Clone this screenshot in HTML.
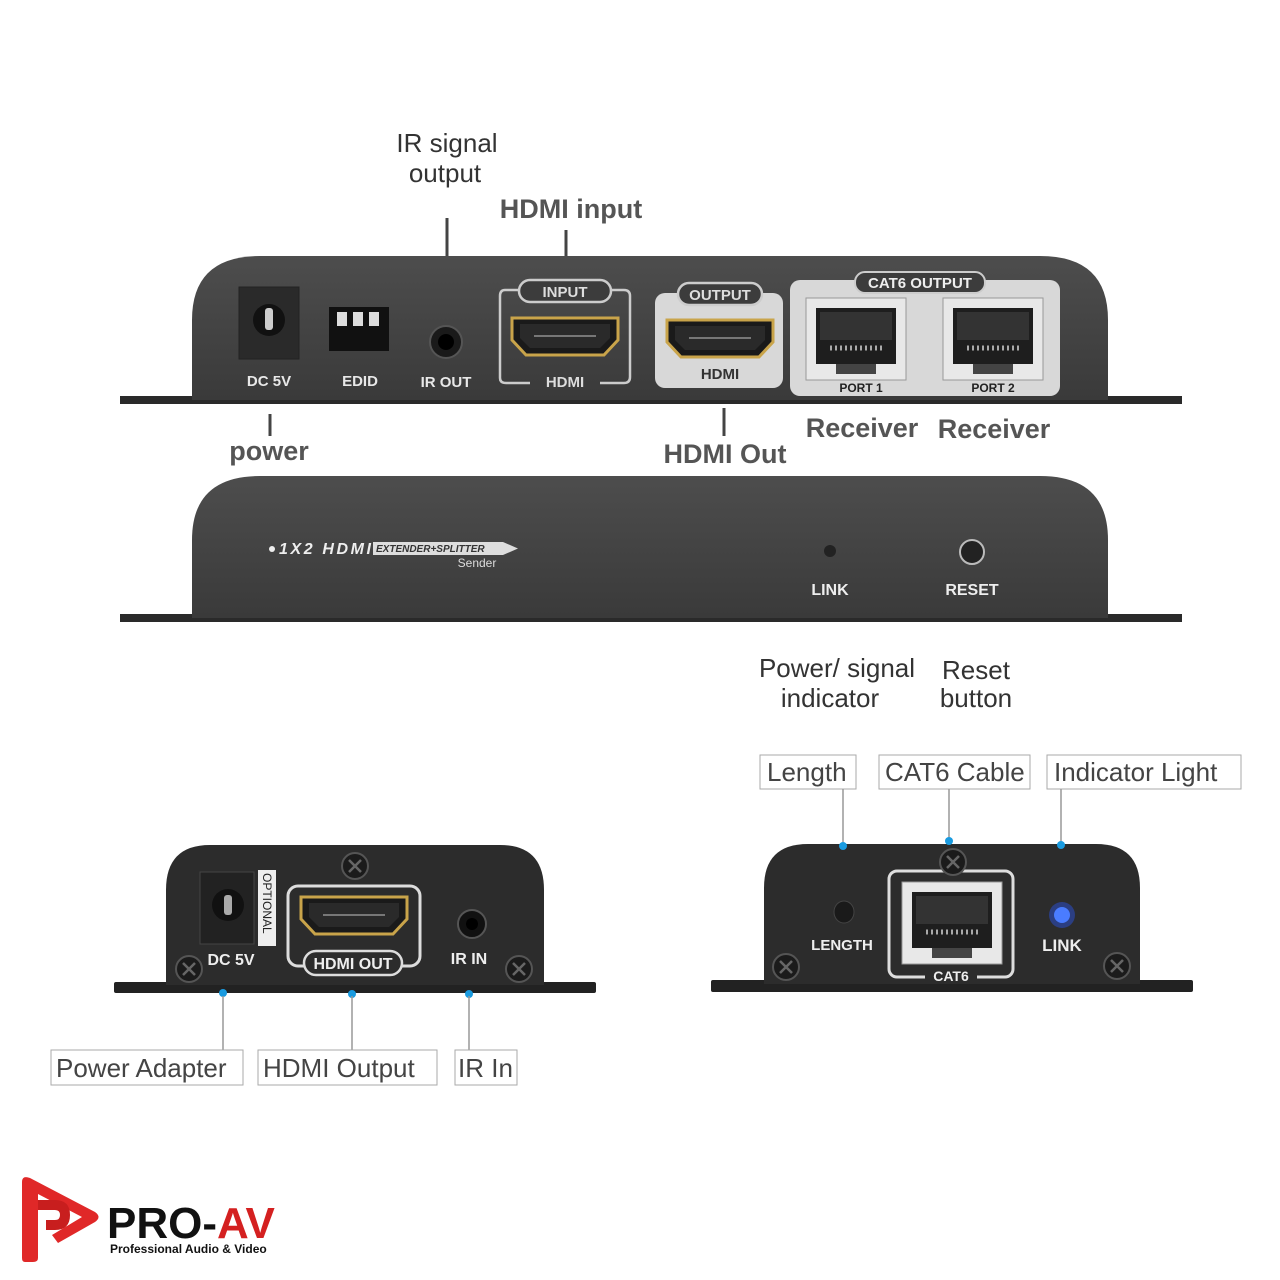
<!DOCTYPE html>
<html><head><meta charset="utf-8"><style>html,body{margin:0;padding:0;background:#fff}svg{display:block}</style></head>
<body>
<svg width="1280" height="1280" viewBox="0 0 1280 1280" xmlns="http://www.w3.org/2000/svg" font-family="Liberation Sans, DejaVu Sans, sans-serif">
<defs>
<linearGradient id="body" x1="0" y1="0" x2="0" y2="1"><stop offset="0" stop-color="#4d4d4d"/><stop offset="1" stop-color="#3a3a3a"/></linearGradient>
<g id="hdmi">
<path d="M0 0 H106 V22 L92 37 H14 L0 22 Z" fill="#1a1a1a" stroke="#c9a44a" stroke-width="3"/>
<path d="M8 6 H98 V20 L88 30 H18 L8 20 Z" fill="#2a2a2a"/>
<line x1="22" y1="18" x2="84" y2="18" stroke="#777" stroke-width="2"/>
</g>
<g id="rj">
<rect x="0" y="0" width="100" height="82" fill="#e8e8e8" stroke="#999"/>
<rect x="10" y="10" width="80" height="56" fill="#1e1e1e"/>
<rect x="14" y="14" width="72" height="28" fill="#333"/>
<path d="M24 50 h52" stroke="#aaa" stroke-width="5" stroke-dasharray="2 3"/>
<rect x="30" y="66" width="40" height="10" fill="#444"/>
</g>
<g id="screw"><circle r="13" fill="#1b1b1b" stroke="#555" stroke-width="2"/><path d="M-6 -6 L6 6 M6 -6 L-6 6" stroke="#666" stroke-width="2.5"/></g>
</defs>

<g fill="#333" font-size="26" text-anchor="middle">
<text x="447" y="152">IR signal</text><text x="445" y="182">output</text>
</g>
<text x="571" y="218" font-size="27" font-weight="bold" fill="#555" text-anchor="middle">HDMI input</text>
<line x1="447" y1="218" x2="447" y2="256" stroke="#444" stroke-width="3"/>
<line x1="566" y1="230" x2="566" y2="256" stroke="#444" stroke-width="3"/>

<rect x="120" y="396" width="1062" height="8" fill="#2a2a2a"/>
<path d="M192 400 V320 Q192 256 260 256 H1040 Q1108 256 1108 320 V400 Z" fill="url(#body)"/>
<rect x="239" y="287" width="60" height="72" fill="#2a2a2a" stroke="#222"/>
<circle cx="269" cy="320" r="16" fill="#111"/><rect x="265" y="308" width="8" height="22" fill="#ccc" rx="3"/>
<rect x="329" y="307" width="60" height="44" fill="#111"/>
<rect x="337" y="312" width="10" height="14" fill="#ddd"/><rect x="353" y="312" width="10" height="14" fill="#ddd"/><rect x="369" y="312" width="10" height="14" fill="#ddd"/>
<circle cx="446" cy="342" r="16" fill="#1a1a1a" stroke="#555" stroke-width="2"/><circle cx="446" cy="342" r="8" fill="#000"/>
<path d="M520 290 H505 Q500 290 500 296 V378 Q500 383 506 383 H530 M600 383 H624 Q630 383 630 377 V296 Q630 290 624 290 H612" fill="none" stroke="#ccc" stroke-width="2.5"/>
<rect x="519" y="280" width="92" height="22" rx="11" fill="#3c3c3c" stroke="#ccc" stroke-width="2.5"/>
<text x="565" y="297" font-size="15" font-weight="bold" fill="#ddd" text-anchor="middle">INPUT</text>
<use href="#hdmi" x="512" y="318"/>
<text x="565" y="387" font-size="15" font-weight="bold" fill="#ddd" text-anchor="middle">HDMI</text>
<rect x="655" y="293" width="128" height="95" rx="10" fill="#d8d8d8"/>
<rect x="678" y="283" width="84" height="22" rx="11" fill="#3c3c3c" stroke="#ccc" stroke-width="2.5"/>
<text x="720" y="300" font-size="15" font-weight="bold" fill="#ddd" text-anchor="middle">OUTPUT</text>
<use href="#hdmi" x="667" y="320"/>
<text x="720" y="379" font-size="15" font-weight="bold" fill="#333" text-anchor="middle">HDMI</text>
<rect x="790" y="280" width="270" height="116" rx="10" fill="#d8d8d8"/>
<rect x="855" y="272" width="130" height="21" rx="10" fill="#3c3c3c" stroke="#ccc" stroke-width="2"/>
<text x="920" y="288" font-size="15" font-weight="bold" fill="#eee" text-anchor="middle">CAT6 OUTPUT</text>
<use href="#rj" x="806" y="298"/><use href="#rj" x="943" y="298"/>
<text x="861" y="392" font-size="12" font-weight="bold" fill="#222" text-anchor="middle">PORT 1</text>
<text x="993" y="392" font-size="12" font-weight="bold" fill="#222" text-anchor="middle">PORT 2</text>
<g font-size="15" font-weight="bold" fill="#e8e8e8" text-anchor="middle">
<text x="269" y="386">DC 5V</text><text x="360" y="386">EDID</text><text x="446" y="387">IR OUT</text></g>

<line x1="270" y1="414" x2="270" y2="436" stroke="#444" stroke-width="3"/>
<line x1="724" y1="408" x2="724" y2="436" stroke="#444" stroke-width="3"/>
<g font-size="27" font-weight="bold" fill="#555" text-anchor="middle">
<text x="269" y="460">power</text><text x="725" y="463">HDMI Out</text>
<text x="862" y="437">Receiver</text><text x="994" y="438">Receiver</text></g>

<rect x="120" y="614" width="1062" height="8" fill="#2a2a2a"/>
<path d="M192 618 V540 Q192 476 260 476 H1040 Q1108 476 1108 540 V618 Z" fill="url(#body)"/>
<text x="279" y="554" font-size="16" font-weight="bold" font-style="italic" fill="#eee" textLength="92">1X2 HDMI</text>
<rect x="373" y="542" width="130" height="13" fill="#ddd"/><path d="M503 542 L518 548.5 L503 555 Z" fill="#ddd"/>
<text x="376" y="552" font-size="10" font-style="italic" font-weight="bold" fill="#333">EXTENDER+SPLITTER</text>
<text x="477" y="567" font-size="12" fill="#ddd" text-anchor="middle">Sender</text>
<circle cx="272" cy="549" r="3" fill="#eee"/>
<circle cx="830" cy="551" r="6" fill="#222"/>
<circle cx="972" cy="552" r="12" fill="#222" stroke="#bbb" stroke-width="2"/>
<text x="830" y="595" font-size="16" font-weight="bold" fill="#eee" text-anchor="middle">LINK</text>
<text x="972" y="595" font-size="16" font-weight="bold" fill="#eee" text-anchor="middle">RESET</text>

<g font-size="26" fill="#333" text-anchor="middle">
<text x="837" y="677">Power/ signal</text><text x="830" y="707">indicator</text>
<text x="976" y="679">Reset</text><text x="976" y="707">button</text></g>

<g font-size="26" fill="#444">
<rect x="760" y="755" width="96" height="34" fill="#fff" stroke="#aaa"/><text x="767" y="781">Length</text>
<rect x="879" y="755" width="151" height="34" fill="#fff" stroke="#aaa"/><text x="885" y="781">CAT6 Cable</text>
<rect x="1047" y="755" width="194" height="34" fill="#fff" stroke="#aaa"/><text x="1054" y="781">Indicator Light</text>
</g>
<g stroke="#999" stroke-width="1.5"><line x1="843" y1="789" x2="843" y2="846"/><line x1="949" y1="789" x2="949" y2="840"/><line x1="1061" y1="789" x2="1061" y2="844"/></g>

<rect x="114" y="982" width="482" height="11" rx="2" fill="#222"/>
<path d="M166 985 V890 Q166 845 210 845 H500 Q544 845 544 890 V985 Z" fill="#2c2c2c"/>
<rect x="200" y="872" width="54" height="72" fill="#222" stroke="#444"/>
<circle cx="228" cy="905" r="16" fill="#111"/><rect x="224" y="895" width="8" height="20" rx="3" fill="#aaa"/>
<rect x="258" y="870" width="18" height="76" fill="#eee"/>
<text transform="translate(263,873) rotate(90)" font-size="12" fill="#222">OPTIONAL</text>
<rect x="288" y="886" width="132" height="80" rx="10" fill="none" stroke="#ddd" stroke-width="3"/>
<use href="#hdmi" x="301" y="897"/>
<rect x="304" y="951" width="98" height="24" rx="12" fill="#2c2c2c" stroke="#ddd" stroke-width="2.5"/>
<text x="353" y="969" font-size="16" font-weight="bold" fill="#eee" text-anchor="middle">HDMI OUT</text>
<circle cx="472" cy="924" r="14" fill="#111" stroke="#555" stroke-width="2"/><circle cx="472" cy="924" r="6" fill="#000"/>
<text x="231" y="965" font-size="16" font-weight="bold" fill="#eee" text-anchor="middle">DC 5V</text>
<text x="469" y="964" font-size="16" font-weight="bold" fill="#eee" text-anchor="middle">IR IN</text>
<use href="#screw" x="355" y="866"/><use href="#screw" x="189" y="969"/><use href="#screw" x="519" y="969"/>
<g fill="#1a9be0"><circle cx="223" cy="993" r="4"/><circle cx="352" cy="994" r="4"/><circle cx="469" cy="994" r="4"/></g>
<g stroke="#999" stroke-width="1.5"><line x1="223" y1="996" x2="223" y2="1052"/><line x1="352" y1="996" x2="352" y2="1052"/><line x1="469" y1="996" x2="469" y2="1052"/></g>
<g font-size="26" fill="#444">
<rect x="51" y="1050" width="192" height="35" fill="#fff" stroke="#aaa"/><text x="56" y="1077">Power Adapter</text>
<rect x="258" y="1050" width="179" height="35" fill="#fff" stroke="#aaa"/><text x="263" y="1077">HDMI Output</text>
<rect x="455" y="1050" width="62" height="35" fill="#fff" stroke="#aaa"/><text x="458" y="1077">IR In</text>
</g>

<rect x="711" y="980" width="482" height="12" rx="2" fill="#222"/>
<path d="M764 984 V888 Q764 844 808 844 H1096 Q1140 844 1140 888 V984 Z" fill="#2c2c2c"/>
<g fill="#1a9be0"><circle cx="843" cy="846" r="4"/><circle cx="949" cy="841" r="4"/><circle cx="1061" cy="845" r="4"/></g>
<rect x="889" y="871" width="124" height="106" rx="8" fill="none" stroke="#ddd" stroke-width="3"/>
<rect x="925" y="966" width="52" height="16" fill="#2c2c2c"/>
<text x="951" y="981" font-size="14" font-weight="bold" fill="#eee" text-anchor="middle">CAT6</text>
<use href="#rj" x="902" y="882"/>
<use href="#screw" x="953" y="862"/><use href="#screw" x="786" y="967"/><use href="#screw" x="1117" y="966"/>
<ellipse cx="844" cy="912" rx="10" ry="11" fill="#1a1a1a" stroke="#444"/>
<circle cx="1062" cy="915" r="13" fill="#2a4fd8" opacity="0.5"/><circle cx="1062" cy="915" r="8" fill="#4a7cff"/>
<text x="842" y="950" font-size="15" font-weight="bold" fill="#eee" text-anchor="middle">LENGTH</text>
<text x="1062" y="951" font-size="17" font-weight="bold" fill="#eee" text-anchor="middle">LINK</text>

<path d="M22 1182 Q22 1175 30 1178 L95 1212 Q102 1217 95 1222 L58 1243 L52 1235 L82 1217 L38 1194 V1258 Q38 1262 33 1262 H25 Q22 1262 22 1258 Z" fill="#e02828"/>
<path d="M38 1200 H55 Q70 1200 70 1215 Q70 1230 55 1230 H46 V1220 H55 Q60 1220 60 1215 Q60 1210 55 1210 H38 Z" fill="#c81e1e"/>
<text x="107" y="1238" font-size="44" font-weight="bold" fill="#111">PRO-<tspan fill="#d42020">AV</tspan></text>
<text x="110" y="1253" font-size="12" font-weight="bold" fill="#111">Professional Audio &amp; Video</text>
</svg>
</body></html>
